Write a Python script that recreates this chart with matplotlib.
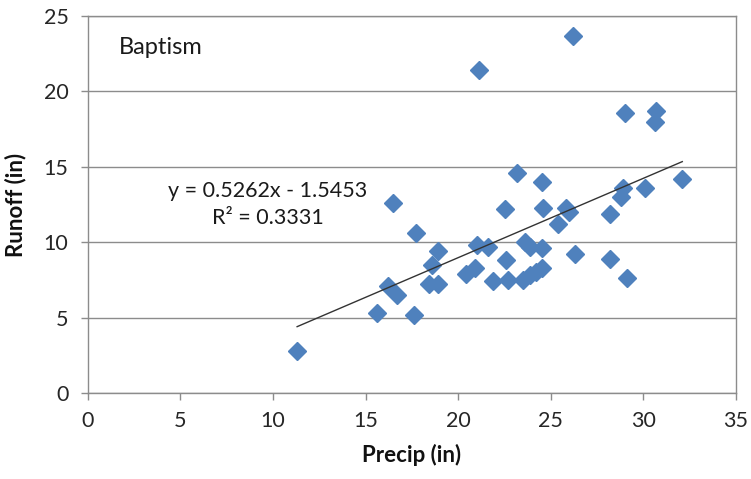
import numpy as np
import matplotlib
matplotlib.use("Agg")
from matplotlib import pyplot as plt

# Precipitation vs runoff (inches)
precip = [11.3, 15.6, 17.6, 16.2, 16.7, 16.5, 17.7, 18.6, 18.9, 18.4,
          18.9, 20.4, 20.9, 21.0, 21.6, 21.1, 21.9, 22.7, 22.5, 22.6,
          23.2, 23.6, 23.9, 23.5, 23.9, 24.2, 24.5, 24.5, 24.5, 24.6,
          25.4, 25.8, 26.0, 26.2, 26.3, 28.2, 28.2, 28.9, 28.8, 29.0,
          29.1, 30.1, 30.6, 30.7, 32.1]
runoff = [2.8, 5.3, 5.2, 7.1, 6.5, 12.6, 10.6, 8.5, 9.4, 7.2,
          7.2, 7.9, 8.3, 9.8, 9.7, 21.4, 7.4, 7.5, 12.2, 8.8,
          14.6, 10.0, 9.7, 7.5, 7.8, 8.0, 8.3, 9.6, 14.0, 12.3,
          11.2, 12.3, 12.0, 23.7, 9.2, 11.9, 8.9, 13.6, 13.0, 18.6,
          7.6, 13.6, 18.0, 18.7, 14.2]

slope = 0.5262
intercept = -1.5453
r2 = 0.3331

xticks = [0, 5, 10, 15, 20, 25, 30, 35]
yticks = [0, 5, 10, 15, 20, 25]

plt.rcParams['font.family'] = ['Lato', 'DejaVu Sans']

fig = plt.figure(figsize=(7.51, 4.79), dpi=100)
ax = fig.add_axes([0.117, 0.1795, 0.863, 0.787])

ax.plot(precip, runoff, linestyle='none', marker='D', markersize=9.5,
        color='#4F81BD', markeredgecolor='#4F81BD', zorder=3)

# linear trendline over the data range
xt = np.array([min(precip), max(precip)])
ax.plot(xt, slope * xt + intercept, color='#333333', linewidth=1.0, zorder=4)

ax.set_xlim(0, 35)
ax.set_ylim(0, 25)
ax.set_xticks(xticks)
ax.set_yticks(yticks)
ax.yaxis.grid(True, color='#8c8c8c', linewidth=1.0)
ax.set_axisbelow(True)
for s in ax.spines.values():
    s.set_color('#8c8c8c')
    s.set_linewidth(1.0)
ax.tick_params(axis='both', length=5, width=1, color='#8c8c8c',
               labelsize=15.5, labelcolor='#262626')
ax.tick_params(axis='x', pad=8)
ax.tick_params(axis='y', pad=9)

ax.set_xlabel('Precip (in)', fontsize=16, fontweight='bold', color='#111111')
ax.set_ylabel('Runoff (in)', fontsize=16, fontweight='bold', color='#111111')
ax.xaxis.set_label_coords(0.5, -0.164)
ax.xaxis.label.set_va('center')
ax.yaxis.set_label_coords(-0.112, 0.5)
ax.yaxis.label.set_va('center')

ax.text(1.7, 22.9, 'Baptism', fontsize=17, va='center', ha='left',
        color='#1a1a1a')
ax.text(9.7, 12.5, 'y = %.4fx - %.4f\nR\u00b2 = %.4f' % (slope, -intercept, r2),
        fontsize=15.5, ha='center', va='center', linespacing=1.4,
        color='#1a1a1a')

fig.savefig('out.png', dpi=100)
